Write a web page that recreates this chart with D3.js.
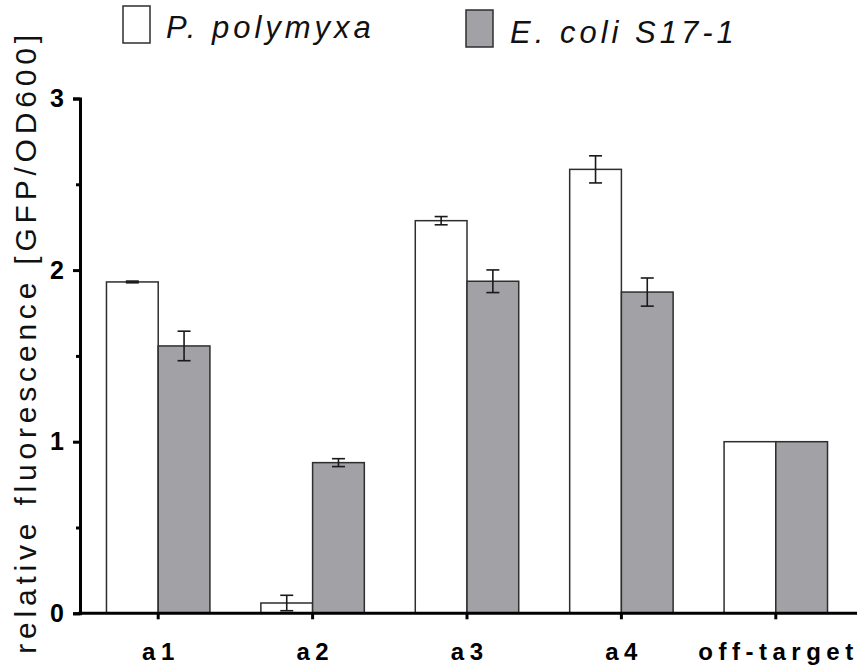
<!DOCTYPE html>
<html>
<head>
<meta charset="utf-8">
<script src="https://cdn.jsdelivr.net/npm/d3@7"></script>
<style>
  body { margin: 0; background: #fff; }
  svg text { font-family: "Liberation Sans", Arial, sans-serif; }
</style>
</head>
<body>
<svg id="chart" width="861" height="670"></svg>
<script>
// data
const categories = ['a1', 'a2', 'a3', 'a4', 'off-target'];
const seriesNames = ['P. polymyxa', 'E. coli S17-1'];
const polymyxa = [1.931, 0.060, 2.288, 2.587, 1.0];
const polymyxaErr = [0.005, 0.045, 0.024, 0.079, 0];
const ecoli = [1.558, 0.878, 1.935, 1.872, 1.0];
const ecoliErr = [0.086, 0.023, 0.066, 0.082, 0];
const yTicks = [0, 1, 2, 3];
const yMinorTicks = [0.5, 1.5, 2.5];

const colors = ['#ffffff', '#a2a1a6'];
const svg = d3.select('#chart');

const x0 = d3.scaleBand()
    .domain(categories)
    .range([81, 853])
    .paddingInner(0.33)
    .paddingOuter(0.165);

const x1 = d3.scaleBand()
    .domain([0, 1])
    .range([0, x0.bandwidth()]);

const y = d3.scaleLinear()
    .domain([0, 3])
    .range([613.3, 98.5]);

const rows = categories.map((c, i) => ({
    cat: c,
    vals: [
        {s: 0, v: polymyxa[i], e: polymyxaErr[i]},
        {s: 1, v: ecoli[i], e: ecoliErr[i]}
    ]
}));

// bars
const groups = svg.append('g')
    .selectAll('g')
    .data(rows)
    .enter()
    .append('g')
    .attr('transform', d => `translate(${x0(d.cat)},0)`);

groups.selectAll('rect')
    .data(d => d.vals)
    .enter()
    .append('rect')
    .attr('x', d => x1(d.s))
    .attr('y', d => y(d.v))
    .attr('width', x1.bandwidth())
    .attr('height', d => y(0) - y(d.v))
    .attr('fill', d => colors[d.s])
    .attr('stroke', '#2e2e2e')
    .attr('stroke-width', 1.5);

// error bars
const capW = 13;
const errs = groups.selectAll('g.err')
    .data(d => d.vals.filter(v => v.e > 0))
    .enter()
    .append('g')
    .attr('class', 'err')
    .attr('stroke', '#1a1a1a')
    .attr('stroke-width', 1.6);

errs.append('line')
    .attr('x1', d => x1(d.s) + x1.bandwidth() / 2)
    .attr('x2', d => x1(d.s) + x1.bandwidth() / 2)
    .attr('y1', d => y(d.v - d.e))
    .attr('y2', d => y(d.v + d.e));

[-1, 1].forEach(sign => {
    errs.append('line')
        .attr('x1', d => x1(d.s) + x1.bandwidth() / 2 - capW / 2)
        .attr('x2', d => x1(d.s) + x1.bandwidth() / 2 + capW / 2)
        .attr('y1', d => y(d.v + sign * d.e))
        .attr('y2', d => y(d.v + sign * d.e));
});

// y axis
const yAxis = svg.append('g')
    .attr('transform', 'translate(80,0)')
    .call(d3.axisLeft(y).tickValues(yTicks).tickSize(7).tickPadding(9).tickFormat(d3.format('d')));
yAxis.select('.domain').attr('stroke-width', 3).attr('stroke', '#000');
yAxis.selectAll('.tick line').attr('stroke-width', 3);
yAxis.selectAll('.tick text')
    .attr('font-size', 25)
    .attr('font-weight', 'bold')
    .attr('fill', '#000');

svg.append('g')
    .attr('transform', 'translate(80,0)')
    .call(d3.axisLeft(y).tickValues(yMinorTicks).tickSize(4).tickFormat(''))
    .call(g => g.select('.domain').remove())
    .selectAll('.tick line').attr('stroke-width', 3);

// x axis
const xAxis = svg.append('g')
    .attr('transform', `translate(0,${y(0)})`)
    .call(d3.axisBottom(x0).tickSize(6).tickSizeOuter(0).tickPadding(24));
xAxis.select('.domain').remove();
xAxis.append('line')
    .attr('x1', 78.5)
    .attr('x2', 857)
    .attr('stroke', '#000')
    .attr('stroke-width', 3);
xAxis.selectAll('.tick line').attr('stroke-width', 3);
xAxis.selectAll('.tick text')
    .attr('font-size', 24)
    .attr('font-weight', 'bold')
    .attr('fill', '#000')
    .attr('letter-spacing', 5.5)
    .attr('dx', 2.7);

// y axis title
svg.append('text')
    .attr('transform', 'translate(36,342) rotate(-90)')
    .attr('text-anchor', 'middle')
    .attr('font-size', 30)
    .attr('letter-spacing', 4.8)
    .attr('fill', '#111')
    .text('relative fluorescence [GFP/OD600]');

// legend
const legendPos = [{bx: 123, by: 6, tx: 166, ty: 38}, {bx: 466, by: 10, tx: 510, ty: 43}];
const legend = svg.append('g')
    .selectAll('g')
    .data(seriesNames)
    .enter()
    .append('g');

legend.append('rect')
    .attr('x', (d, i) => legendPos[i].bx)
    .attr('y', (d, i) => legendPos[i].by)
    .attr('width', 27)
    .attr('height', 37)
    .attr('fill', (d, i) => colors[i])
    .attr('stroke', '#2e2e2e')
    .attr('stroke-width', 1.5);

legend.append('text')
    .attr('x', (d, i) => legendPos[i].tx)
    .attr('y', (d, i) => legendPos[i].ty)
    .attr('font-size', 31)
    .attr('font-style', 'italic')
    .attr('letter-spacing', 4)
    .attr('fill', '#111')
    .text(d => d);
</script>
</body>
</html>
